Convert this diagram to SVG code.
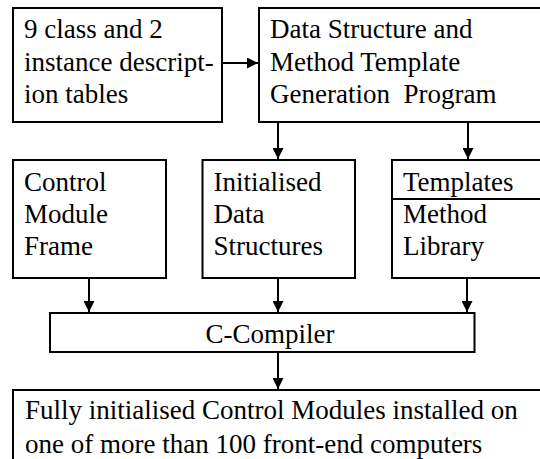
<svg xmlns="http://www.w3.org/2000/svg" width="540" height="459" viewBox="0 0 540 459">
<defs>
<marker id="ah" viewBox="0 0 10 10" refX="10" refY="5" markerWidth="11" markerHeight="11" markerUnits="userSpaceOnUse" orient="auto">
<path d="M0,0 L10,5 L0,10 Z" fill="#000"/>
</marker>
</defs>
<style>
.box{fill:#fff;stroke:#000;stroke-width:2}
.t{font-size:27px;fill:#000}
.c{stroke:#000;stroke-width:2;fill:none;marker-end:url(#ah)}
</style>
<rect width="540" height="459" fill="#fff"/>
<g font-family="Liberation Serif, Times New Roman, DejaVu Serif, serif">
<g id="tables">
<rect class="box" x="13" y="8" width="209" height="114"/>
<text class="t" x="24" y="38">9 class and 2</text>
<text class="t" x="24" y="70.5">instance descript-</text>
<text class="t" x="24" y="102.5">ion tables</text>
</g>
<g id="generator">
<rect class="box" x="259" y="8" width="290" height="114"/>
<text class="t" x="270" y="38">Data Structure and</text>
<text class="t" x="270" y="70.5">Method Template</text>
<text class="t" x="270" y="102.5" xml:space="preserve">Generation  Program</text>
</g>
<g id="frame">
<rect class="box" x="13" y="160" width="153" height="118"/>
<text class="t" x="24" y="190.5">Control</text>
<text class="t" x="24" y="223">Module</text>
<text class="t" x="24" y="255">Frame</text>
</g>
<g id="datastructures">
<rect class="box" x="202.5" y="160" width="152.5" height="118"/>
<text class="t" x="213.5" y="190.5">Initialised</text>
<text class="t" x="213.5" y="223">Data</text>
<text class="t" x="213.5" y="255">Structures</text>
</g>
<g id="library">
<rect class="box" x="392" y="160" width="160" height="118"/>
<line x1="392" y1="199" x2="552" y2="199" stroke="#000" stroke-width="2"/>
<text class="t" x="403" y="190.5">Templates</text>
<text class="t" x="403" y="223">Method</text>
<text class="t" x="403" y="255">Library</text>
</g>
<g id="compiler">
<rect class="box" x="50" y="313" width="424.5" height="39"/>
<text class="t" x="270" y="343" text-anchor="middle">C-Compiler</text>
</g>
<g id="modules">
<rect class="box" x="13" y="390" width="540" height="90"/>
<text class="t" x="25" y="419">Fully initialised Control Modules installed on</text>
<text class="t" x="25" y="453">one of more than 100 front-end computers</text>
</g>
</g>
<g id="connectors">
<line class="c" x1="222" y1="63" x2="258" y2="63"/>
<line class="c" x1="278" y1="122" x2="278" y2="159"/>
<line class="c" x1="468" y1="122" x2="468" y2="159"/>
<line class="c" x1="89" y1="278" x2="89" y2="312"/>
<line class="c" x1="278" y1="278" x2="278" y2="312"/>
<line class="c" x1="467" y1="278" x2="467" y2="312"/>
<line class="c" x1="278" y1="352" x2="278" y2="389"/>
</g>
</svg>
